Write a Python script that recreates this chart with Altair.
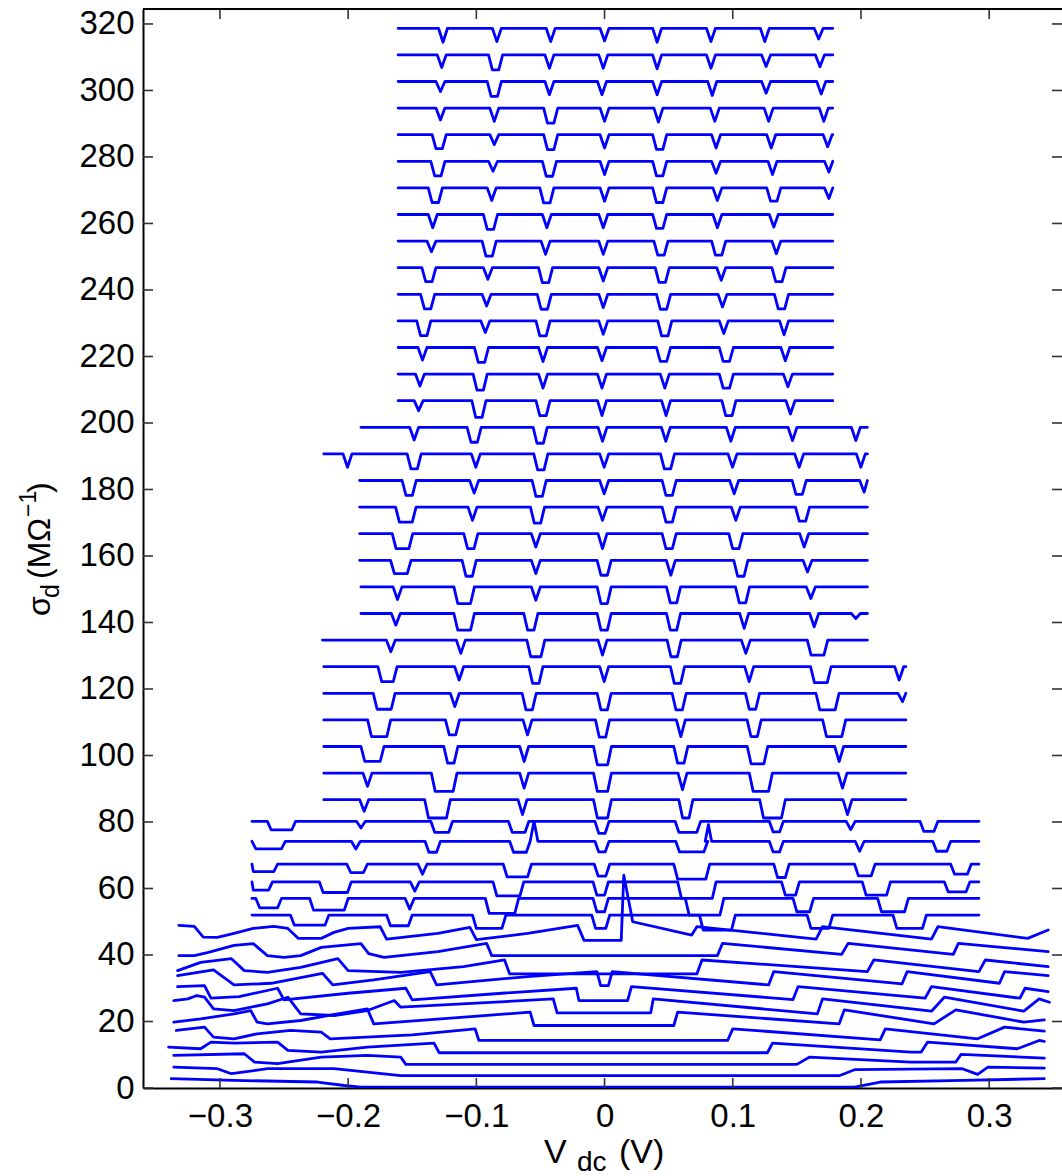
import altair as alt
import pandas as pd

# ---------------------------------------------------------------------------
# Differential conductance sweeps, offset vertically (MΩ^-1) versus bias V_dc.
# Upper sweeps: flat baseline with sharp dips; lower sweeps: staircase-like.
# ---------------------------------------------------------------------------

V, U, WU = 0.007, 0.011, 0.016   # dip widths in volts: narrow, flat-bottom, wide

# baseline of each dip-type sweep
dip_base = [318.7, 310.7, 302.7, 294.7, 286.7, 278.7, 270.7, 262.7, 254.7, 246.7,
            238.7, 230.7, 222.7, 214.7, 206.7,
            198.7, 190.7, 182.7, 174.7, 166.7, 158.7, 150.7, 142.7,
            134.7, 126.7, 118.7, 110.7, 102.7, 94.7, 86.7,
            80.2, 74.2, 67.3, 62.0, 57.0, 52.0]
dip_start = [-0.161] * 15 + [-0.190, -0.219, -0.191, -0.191, -0.191, -0.191, -0.190, -0.190] \
    + [-0.220] + [-0.219] * 6 + [-0.275] * 6
dip_end = [0.178] * 15 + [0.205] * 8 + [0.205] + [0.235] * 6 + [0.292] * 6

# dips per sweep: (centre V, width V, depth MΩ^-1); a negative depth is a spike
dip_list = [
    [(-0.126, V, 4.2), (-0.084, V, 4.0), (-0.042, V, 4.0), (0.000, V, 3.8), (0.041, V, 4.2), (0.083, V, 4.0), (0.125, V, 4.0), (0.167, V, 3.2)],
    [(-0.127, V, 3.8), (-0.085, U, 4.5), (-0.043, V, 4.0), (-0.001, V, 4.0), (0.041, V, 4.2), (0.083, V, 4.0), (0.126, V, 3.5), (0.168, V, 3.6)],
    [(-0.128, V, 3.0), (-0.086, U, 4.5), (-0.043, V, 4.0), (-0.002, V, 4.0), (0.041, V, 4.0), (0.084, V, 4.2), (0.126, V, 3.5), (0.169, V, 3.8)],
    [(-0.128, V, 3.6), (-0.086, V, 4.0), (-0.042, U, 4.5), (0.000, V, 4.0), (0.042, V, 4.2), (0.086, V, 4.0), (0.128, V, 4.0), (0.171, V, 4.0)],
    [(-0.129, U, 4.2), (-0.086, V, 3.0), (-0.042, U, 4.5), (0.000, V, 4.0), (0.043, U, 4.4), (0.087, V, 4.0), (0.130, V, 4.0), (0.174, V, 3.6)],
    [(-0.130, U, 4.4), (-0.087, V, 3.0), (-0.043, U, 4.5), (0.000, V, 4.0), (0.043, U, 4.4), (0.087, V, 3.6), (0.131, V, 4.0), (0.175, V, 3.2)],
    [(-0.132, U, 4.4), (-0.088, V, 3.8), (-0.045, U, 4.5), (0.000, V, 4.0), (0.043, U, 4.4), (0.088, V, 3.8), (0.132, U, 4.0), (0.175, V, 3.2)],
    [(-0.134, V, 4.0), (-0.089, U, 4.5), (-0.045, V, 4.0), (-0.001, V, 4.0), (0.043, U, 4.2), (0.088, V, 4.0), (0.132, V, 3.8)],
    [(-0.135, V, 3.2), (-0.090, U, 4.5), (-0.046, V, 4.0), (-0.001, V, 4.0), (0.044, U, 4.2), (0.089, U, 4.2), (0.134, V, 3.8)],
    [(-0.137, U, 4.2), (-0.091, V, 3.5), (-0.046, U, 4.5), (-0.001, V, 4.0), (0.045, U, 4.4), (0.091, V, 3.8), (0.136, U, 4.2)],
    [(-0.138, U, 4.4), (-0.092, V, 3.5), (-0.047, U, 4.5), (-0.001, V, 4.0), (0.046, U, 4.5), (0.092, V, 3.8), (0.138, U, 4.4)],
    [(-0.141, U, 4.4), (-0.093, V, 3.5), (-0.048, U, 4.5), (-0.001, V, 4.0), (0.047, U, 4.5), (0.093, V, 3.8), (0.140, V, 4.2)],
    [(-0.142, V, 3.8), (-0.096, U, 4.5), (-0.048, V, 4.2), (-0.002, V, 4.0), (0.046, U, 4.2), (0.095, U, 4.2), (0.141, V, 4.0)],
    [(-0.144, V, 3.6), (-0.097, U, 4.8), (-0.048, V, 4.2), (-0.002, V, 4.2), (0.047, V, 4.2), (0.095, U, 4.2), (0.143, V, 3.8)],
    [(-0.145, V, 3.0), (-0.098, U, 5.0), (-0.048, U, 4.5), (-0.002, V, 4.5), (0.048, V, 4.5), (0.097, U, 4.5), (0.145, V, 4.0)],
    # 198.7 .. 142.7
    [(-0.1485, V, 3.8), (-0.1017, U, 4.5), (-0.0502, U, 4.8), (-0.0016, V, 4.2), (0.0478, V, 4.2), (0.0985, V, 4.2), (0.1466, V, 4.0), (0.1960, V, 4.0)],
    [(-0.2005, V, 4.0), (-0.1485, U, 4.5), (-0.1004, V, 4.0), (-0.0497, U, 4.8), (-0.0003, V, 4.0), (0.0491, U, 4.5), (0.0998, V, 4.0), (0.1518, V, 4.0), (0.1999, V, 4.0)],
    [(-0.1524, U, 4.5), (-0.1017, V, 3.8), (-0.0510, U, 4.8), (-0.0003, V, 4.0), (0.0504, U, 4.5), (0.1011, V, 4.0), (0.1518, U, 4.2), (0.2025, V, 3.5)],
    [(-0.1550, WU, 4.5), (-0.1030, V, 4.0), (-0.0523, U, 4.8), (-0.0016, V, 4.0), (0.0504, U, 4.5), (0.1024, V, 4.0), (0.1544, U, 4.2)],
    [(-0.1576, WU, 4.5), (-0.1043, U, 4.5), (-0.0536, V, 4.0), (-0.0016, V, 4.5), (0.0504, U, 4.5), (0.1024, U, 4.5), (0.1557, V, 4.0)],
    [(-0.1589, WU, 4.0), (-0.1056, U, 4.8), (-0.0536, V, 4.0), (-0.0003, U, 4.5), (0.0517, V, 4.5), (0.1063, U, 4.8), (0.1583, V, 3.5)],
    [(-0.1615, V, 3.8), (-0.1095, WU, 5.0), (-0.0536, V, 4.0), (-0.0003, U, 5.0), (0.0538, U, 4.8), (0.1076, U, 4.8), (0.1609, V, 3.5)],
    [(-0.1628, V, 3.5), (-0.1095, WU, 5.0), (-0.0575, U, 5.0), (-0.0003, U, 5.0), (0.0538, U, 5.0), (0.1089, V, 4.5), (0.1635, V, 4.0), (0.1960, V, 1.5)],
    # 134.7 .. 86.7
    [(-0.1667, V, 3.5), (-0.1121, V, 4.0), (-0.0536, 0.014, 5.0), (-0.0016, V, 4.5), (0.0543, U, 5.0), (0.1102, V, 4.0), (0.1661, WU, 4.5)],
    [(-0.1693, 0.015, 4.5), (-0.1134, V, 4.0), (-0.0536, U, 5.0), (-0.0003, V, 4.5), (0.0569, U, 5.0), (0.1128, V, 4.5), (0.1687, WU, 4.8), (0.2298, V, 4.0)],
    [(-0.1719, 0.017, 4.8), (-0.1168, V, 4.0), (-0.0588, U, 5.0), (-0.0003, U, 5.0), (0.0582, U, 5.0), (0.1154, U, 4.8), (0.1739, 0.018, 5.0), (0.2324, V, 2.5)],
    [(-0.1758, 0.018, 5.0), (-0.1186, U, 4.5), (-0.0601, V, 4.5), (-0.0016, U, 5.2), (0.0595, V, 5.0), (0.1167, U, 5.0), (0.1791, 0.018, 5.0)],
    [(-0.1810, 0.018, 4.5), (-0.1199, U, 5.0), (-0.0627, V, 4.5), (-0.0016, 0.014, 5.5), (0.0595, U, 5.0), (0.1193, 0.016, 5.2), (0.1830, V, 4.5)],
    [(-0.1849, V, 4.0), (-0.1251, 0.020, 5.5), (-0.0627, V, 4.5), (-0.0016, 0.014, 5.5), (0.0608, V, 5.0), (0.1219, 0.018, 5.5), (0.1856, V, 4.5)],
    [(-0.1875, V, 3.5), (-0.1303, 0.020, 5.5), (-0.0640, V, 4.5), (-0.0016, 0.014, 5.5), (0.0634, U, 5.5), (0.1310, 0.020, 5.5), (0.1895, V, 4.5)],
    # 80 .. 52
    [(-0.252, 0.022, 2.6), (-0.190, V, 2.0), (-0.127, 0.017, 3.3), (-0.067, 0.016, 3.3), (-0.002, U, 3.6), (0.065, 0.020, 3.3), (0.134, U, 3.2), (0.192, V, 2.5), (0.253, 0.014, 3.0)],
    [(-0.262, 0.026, 2.3), (-0.194, V, 2.3), (-0.134, 0.012, 3.3), (-0.066, 0.016, 3.3), (-0.055, 0.006, -6.0), (-0.002, U, 3.2), (0.068, 0.025, 3.2), (0.081, 0.005, -5.0), (0.134, U, 3.2), (0.199, V, 3.0), (0.263, 0.014, 3.0)],
    [(-0.266, 0.022, 2.2), (-0.193, 0.016, 2.5), (-0.142, V, 3.0), (-0.068, 0.022, 3.8), (-0.002, 0.012, 3.6), (0.068, 0.028, 4.5), (0.138, 0.012, 4.0), (0.203, 0.016, 3.5), (0.278, 0.016, 3.0)],
    [(-0.268, 0.018, 2.5), (-0.210, 0.025, 3.2), (-0.148, V, 2.8), (-0.075, 0.024, 4.2), (-0.003, 0.012, 4.0), (0.072, 0.030, 5.0), (0.145, 0.014, 4.0), (0.212, 0.022, 4.0), (0.275, 0.020, 3.0)],
    [(-0.262, 0.020, 2.8), (-0.215, 0.030, 3.5), (-0.152, V, 3.2), (-0.080, 0.026, 4.5), (-0.003, 0.012, 4.0), (0.078, 0.030, 5.0), (0.155, 0.016, 4.0), (0.225, 0.024, 4.0)],
    [(-0.230, 0.030, 3.0), (-0.160, 0.020, 3.2), (-0.090, 0.026, 4.0), (-0.003, 0.014, 4.0), (0.088, 0.028, 4.5), (0.168, 0.020, 4.0), (0.238, 0.026, 4.0)],
]

# staircase sweeps near zero offset: vertices (V_dc, sigma_d), top to bottom
stair_x = [
    [-0.332, -0.320, -0.313, -0.302, -0.289, -0.274, -0.258, -0.247, -0.239, -0.221, -0.211, -0.200, -0.175, -0.170, -0.130, -0.105, -0.100, -0.060, -0.021, -0.016, 0.013, 0.015, 0.022, 0.068, 0.072, 0.165, 0.170, 0.255, 0.260, 0.330, 0.346],
    [-0.332, -0.320, -0.309, -0.289, -0.274, -0.263, -0.250, -0.237, -0.221, -0.190, -0.184, -0.172, -0.130, -0.092, -0.088, 0.088, 0.092, 0.185, 0.190, 0.272, 0.276, 0.346],
    [-0.333, -0.315, -0.291, -0.281, -0.263, -0.237, -0.208, -0.200, -0.159, -0.110, -0.078, -0.074, 0.072, 0.076, 0.205, 0.210, 0.292, 0.297, 0.346],
    [-0.333, -0.305, -0.289, -0.260, -0.220, -0.212, -0.180, -0.136, -0.131, -0.060, -0.006, -0.003, 0.003, 0.006, 0.128, 0.132, 0.232, 0.236, 0.308, 0.312, 0.346],
    [-0.333, -0.312, -0.307, -0.285, -0.255, -0.250, -0.200, -0.155, -0.150, -0.080, -0.022, -0.020, 0.018, 0.021, 0.147, 0.151, 0.250, 0.255, 0.324, 0.328, 0.346],
    [-0.336, -0.325, -0.318, -0.312, -0.305, -0.289, -0.263, -0.247, -0.237, -0.211, -0.185, -0.164, -0.159, -0.100, -0.040, -0.037, 0.036, 0.038, 0.166, 0.170, 0.255, 0.265, 0.327, 0.339, 0.347],
    [-0.336, -0.315, -0.289, -0.276, -0.271, -0.263, -0.237, -0.216, -0.185, -0.180, -0.120, -0.058, -0.055, 0.054, 0.057, 0.183, 0.187, 0.257, 0.274, 0.327, 0.343],
    [-0.334, -0.312, -0.305, -0.289, -0.271, -0.245, -0.221, -0.214, -0.150, -0.101, -0.098, 0.096, 0.100, 0.215, 0.219, 0.291, 0.312, 0.343],
    [-0.340, -0.315, -0.307, -0.289, -0.255, -0.247, -0.221, -0.185, -0.133, -0.129, 0.127, 0.131, 0.239, 0.247, 0.252, 0.322, 0.339, 0.343],
    [-0.336, -0.281, -0.273, -0.255, -0.221, -0.185, -0.159, -0.155, 0.150, 0.160, 0.239, 0.274, 0.278, 0.343],
    [-0.336, -0.302, -0.291, -0.263, -0.211, -0.185, -0.159, 0.183, 0.195, 0.279, 0.291, 0.299, 0.343],
    [-0.338, -0.289, -0.224, -0.203, -0.190, 0.195, 0.215, 0.280, 0.343],
]
stair_y = [
    [48.9, 48.6, 45.4, 45.3, 46.5, 48.0, 48.6, 48.0, 45.0, 45.0, 46.8, 48.0, 48.5, 44.8, 46.5, 48.3, 44.6, 46.5, 48.9, 44.4, 44.4, 64.0, 50.0, 46.0, 48.5, 44.8, 48.5, 44.8, 48.5, 45.0, 47.5],
    [39.8, 39.8, 40.8, 42.9, 43.4, 39.8, 39.3, 39.8, 42.3, 43.4, 40.4, 39.3, 41.0, 43.5, 39.8, 39.8, 43.5, 40.2, 43.5, 40.2, 43.5, 41.0],
    [35.3, 37.8, 38.9, 35.3, 34.8, 36.3, 38.9, 35.3, 34.8, 36.5, 38.5, 34.3, 34.3, 38.5, 35.0, 38.5, 35.0, 38.5, 36.5],
    [33.8, 35.5, 31.0, 31.5, 34.5, 31.0, 32.5, 35.0, 31.0, 33.5, 35.0, 30.8, 30.8, 35.0, 31.0, 35.0, 31.3, 35.0, 31.5, 35.0, 33.8],
    [30.5, 30.8, 27.0, 27.5, 30.0, 26.5, 28.5, 30.0, 26.5, 28.5, 30.0, 26.3, 26.3, 30.5, 26.6, 30.5, 27.0, 30.5, 27.0, 30.0, 29.0],
    [26.3, 26.8, 27.8, 27.3, 23.8, 23.3, 25.3, 27.3, 22.3, 21.8, 23.3, 26.3, 24.3, 25.5, 26.8, 22.6, 22.6, 26.8, 22.3, 26.8, 23.1, 27.3, 23.1, 26.8, 25.8],
    [19.8, 20.8, 22.3, 23.3, 19.8, 19.3, 20.3, 21.8, 23.8, 19.3, 21.0, 22.8, 18.8, 18.8, 22.8, 19.3, 23.5, 19.3, 23.5, 19.8, 20.5],
    [17.3, 18.3, 15.3, 14.8, 16.3, 17.3, 16.8, 14.8, 16.0, 17.8, 14.3, 14.3, 17.8, 14.5, 17.8, 14.8, 18.3, 17.1],
    [12.3, 11.8, 13.8, 13.5, 13.8, 11.3, 10.8, 12.3, 13.5, 10.6, 10.6, 13.5, 10.8, 10.8, 13.8, 11.8, 14.3, 14.0],
    [9.8, 10.3, 7.8, 7.3, 9.3, 9.8, 9.3, 7.1, 7.1, 9.3, 7.8, 7.8, 10.1, 9.0],
    [6.3, 5.8, 4.3, 5.8, 5.8, 4.8, 3.7, 3.7, 5.5, 5.8, 4.1, 6.3, 6.0],
    [2.8, 2.3, 1.8, 0.75, 0.25, 0.25, 1.8, 2.3, 2.8],
]

x_ticks = [-0.3, -0.2, -0.1, 0.0, 0.1, 0.2, 0.3]
y_ticks = [0, 20, 40, 60, 80, 100, 120, 140, 160, 180, 200, 220, 240, 260, 280, 300, 320]


def dip_trace(base, x0, x1, dips):
    pts = [(x0, base)]
    for c, w, d in dips:
        a, b = c - w / 2, c + w / 2
        if w <= 0.008:
            seg = [(a, base), (c, base - d), (b, base)]
        else:
            seg = [(a, base), (a + 0.003, base - d), (b - 0.003, base - d), (b, base)]
        pts += [p for p in seg if x0 <= p[0] <= x1]
    pts.append((x1, base))
    return pts


rows = []
tid = 0
for base, x0, x1, dips in zip(dip_base, dip_start, dip_end, dip_list):
    for i, (xv, yv) in enumerate(dip_trace(base, x0, x1, dips)):
        rows.append({"trace": tid, "i": i, "v": xv, "s": yv})
    tid += 1
for xs, ys in zip(stair_x, stair_y):
    for i, (xv, yv) in enumerate(zip(xs, ys)):
        rows.append({"trace": tid, "i": i, "v": xv, "s": yv})
    tid += 1
sweeps = pd.DataFrame(rows)

W, H = 919, 1079
FONT = "Liberation Sans"
xscale = alt.Scale(domain=[-0.36, 0.3568], nice=False, zero=False)
yscale = alt.Scale(domain=[0, 324.5], nice=False, zero=False)
x_axis = alt.Axis(values=x_ticks, format=".1~f", title=None, tickSize=0, labelPadding=12,
                  labelFontSize=33, labelFont=FONT, labelColor="#000", domainColor="#000",
                  domainWidth=2, grid=False, labelFlush=False)
y_axis = alt.Axis(values=y_ticks, format="d", title=None, tickSize=0, labelPadding=9,
                  labelFontSize=33, labelFont=FONT, labelColor="#000", domainColor="#000",
                  domainWidth=2, grid=False, labelFlush=False)

lines = alt.Chart(sweeps).mark_line(
    color="#0000ff", strokeWidth=2.8, strokeJoin="round", strokeCap="round", clip=True
).encode(
    x=alt.X("v:Q", scale=xscale, axis=x_axis),
    y=alt.Y("s:Q", scale=yscale, axis=y_axis),
    detail="trace:N",
    order="i:Q",
)

yt = pd.DataFrame({"t": y_ticks})
xt = pd.DataFrame({"t": x_ticks})
tick_style = dict(color="#333", strokeWidth=1.6)
ticks_left = alt.Chart(yt).mark_rule(**tick_style).encode(
    y=alt.Y("t:Q", scale=yscale, axis=y_axis), x=alt.value(0), x2=alt.value(10))
ticks_right = alt.Chart(yt).mark_rule(**tick_style).encode(
    y=alt.Y("t:Q", scale=yscale, axis=y_axis), x=alt.value(W - 10), x2=alt.value(W))
ticks_bottom = alt.Chart(xt).mark_rule(**tick_style).encode(
    x=alt.X("t:Q", scale=xscale, axis=x_axis), y=alt.value(H), y2=alt.value(H - 10))
ticks_top = alt.Chart(xt).mark_rule(**tick_style).encode(
    x=alt.X("t:Q", scale=xscale, axis=x_axis), y=alt.value(0), y2=alt.value(10))
one = pd.DataFrame({"k": [0]})
top_frame = alt.Chart(one).mark_rule(color="#000", strokeWidth=2).encode(
    x=alt.value(0), x2=alt.value(W), y=alt.value(0))


def label(text, x, y, size=31, angle=0):
    return alt.Chart(one).mark_text(
        text=text, font=FONT, fontSize=size, color="#000", align="left",
        baseline="alphabetic", angle=angle
    ).encode(x=alt.value(x), y=alt.value(y))


# x-axis title  V_dc (V)
x_title = [
    label("V", 401, H + 75, size=34),
    label("dc", 434, H + 83, size=28),
    label("(V)", 476, H + 75, size=34),
]
# y-axis title  sigma_d (MOhm^-1), rotated to read upwards
y_title = [
    label("σ", -93, 607, size=32, angle=270),
    label("d", -84, 589, size=25, angle=270),
    label("(MΩ", -93, 570, size=32, angle=270),
    label("−1", -107, 508, size=23, angle=270),
    label(")", -93, 484, size=32, angle=270),
]

chart = alt.layer(
    lines, ticks_left, ticks_right, ticks_bottom, ticks_top, top_frame, *x_title, *y_title
).properties(
    width=W, height=H,
    autosize=alt.AutoSizeParams(type="none"),
    padding={"left": 143, "top": 9, "right": 0, "bottom": 88},
).configure_view(stroke=None).configure(background="white")

chart.save("out.html", embed_options={"renderer": "svg", "actions": False})
